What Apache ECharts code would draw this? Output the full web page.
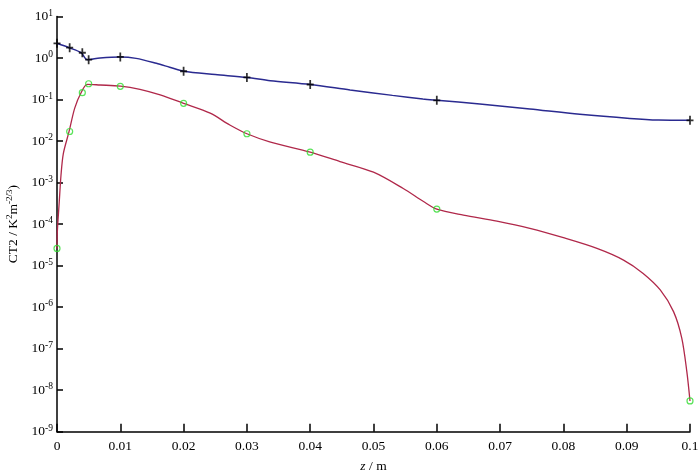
<!DOCTYPE html>
<html>
<head>
<meta charset="utf-8">
<script src="https://cdn.jsdelivr.net/npm/echarts@6/dist/echarts.min.js"></script>
<style>
  html, body { margin: 0; padding: 0; background: #fff; }
  #chart { width: 700px; height: 474px; }
</style>
</head>
<body>
<div id="chart"></div>
<script>
// z (m) positions of the measured points
var markerZ = [0, 0.002, 0.004, 0.005, 0.01, 0.02, 0.03, 0.04, 0.06, 0.1];
var blueMarkers = [2.26, 1.77, 1.34, 0.91, 1.06, 0.48, 0.34, 0.23, 0.096, 0.0315];
var redMarkers = [2.6e-5, 0.017, 0.146, 0.24, 0.208, 0.081, 0.015, 0.0054, 2.3e-4, 5.5e-9];

// curve
var blueLineZ = [0, 0.0019, 0.0038, 0.0048, 0.0068, 0.01, 0.0125, 0.0157, 0.0178, 0.02, 0.025, 0.03,
  0.0337, 0.04, 0.0463, 0.053, 0.0578, 0.06, 0.0668, 0.0747, 0.0826, 0.0905, 0.095, 0.1];
var blueLine = [2.26, 1.77, 1.34, 0.91, 1.0, 1.06, 0.98, 0.745, 0.6, 0.48, 0.4, 0.34,
  0.284, 0.23, 0.17, 0.126, 0.103, 0.096, 0.078, 0.059, 0.044, 0.035, 0.032, 0.0315];

var redLineZ = [0, 0.00005, 0.00036, 0.00063, 0.001, 0.0019, 0.0028, 0.0038, 0.0048, 0.0068, 0.01,
  0.0131, 0.0163, 0.02, 0.0242, 0.0273, 0.03, 0.0336, 0.04, 0.0447, 0.05, 0.0547, 0.0579, 0.06,
  0.0642, 0.0695, 0.0747, 0.08, 0.0853, 0.0895, 0.0926, 0.0953, 0.0974, 0.0987, 0.0995, 0.1];
var redLine = [2.6e-5, 6.5e-5, 3.5e-4, 1.5e-3, 5.0e-3, 0.0168, 0.062, 0.146, 0.232, 0.224, 0.211,
  0.176, 0.129, 0.081, 0.047, 0.0243, 0.015, 0.0096, 0.0054, 0.0032, 0.00178, 0.00072, 0.00035, 0.00023,
  1.65e-4, 1.18e-4, 7.9e-5, 4.7e-5, 2.6e-5, 1.36e-5, 6.5e-6, 2.6e-6, 7.8e-7, 1.8e-7, 2.8e-8, 5.5e-9];

function pairs(xs, ys) {
  return xs.map(function (x, i) { return [x, ys[i]]; });
}

var font = "'Liberation Serif', 'Times New Roman', serif";
var plusPath = 'path://M3,0h2v4h3v2h-3v4h-2v-4h-3v-2h3z';

var chart = echarts.init(document.getElementById('chart'));
chart.setOption({
  animation: false,
  grid: { left: 57, right: 10, top: 16.5, bottom: 42.3, containLabel: false, outerBoundsMode: 'none' },
  xAxis: {
    type: 'value',
    min: 0,
    max: 0.1,
    interval: 0.01,
    name: '{i|z}{n| / m}',
    nameLocation: 'middle',
    nameGap: 28,
    nameTextStyle: {
      rich: {
        i: { fontFamily: font, fontSize: 13.5, fontStyle: 'italic', color: '#000' },
        n: { fontFamily: font, fontSize: 13.5, color: '#000' }
      }
    },
    axisLine: { lineStyle: { color: '#000', width: 1.5 } },
    axisTick: { inside: true, length: 8, lineStyle: { color: '#000', width: 1.5 } },
    axisLabel: {
      margin: 8,
      color: '#000',
      fontFamily: font,
      fontSize: 13.5,
      formatter: function (v) { return String(+v.toFixed(2)); }
    },
    splitLine: { show: false }
  },
  yAxis: {
    type: 'log',
    logBase: 10,
    min: 1e-9,
    max: 10,
    interval: 1,
    name: '{b|CT2 / K}{s|2}{b|m}{s|-2/3}{b|)}',
    nameLocation: 'middle',
    nameGap: 36,
    nameTextStyle: {
      rich: {
        b: { fontFamily: font, fontSize: 13.5, color: '#000' },
        s: { fontFamily: font, fontSize: 9, color: '#000', padding: [0, 0, 7, 0] }
      }
    },
    axisLine: { lineStyle: { color: '#000', width: 1.5 } },
    axisTick: { inside: true, length: 6, lineStyle: { color: '#000', width: 1.5 } },
    minorTick: { show: false },
    axisLabel: {
      margin: 4,
      color: '#000',
      formatter: function (v) {
        var e = Math.round(Math.log10(v));
        return '{b|10}{e|' + e + '}';
      },
      rich: {
        b: { fontFamily: font, fontSize: 13.5, color: '#000' },
        e: { fontFamily: font, fontSize: 9.5, color: '#000', padding: [0, 0, 7, 0] }
      }
    },
    splitLine: { show: false }
  },
  series: [
    {
      type: 'line',
      data: pairs(blueLineZ, blueLine),
      smooth: 0.3,
      showSymbol: false,
      lineStyle: { color: '#2a2a90', width: 1.5 },
      z: 2
    },
    {
      type: 'line',
      data: pairs(redLineZ, redLine),
      smooth: 0.3,
      showSymbol: false,
      lineStyle: { color: '#b0284a', width: 1.3 },
      z: 2
    },
    {
      type: 'scatter',
      data: pairs(markerZ, blueMarkers),
      symbol: plusPath,
      symbolSize: [7, 9],
      itemStyle: { color: '#000' },
      z: 3
    },
    {
      type: 'scatter',
      data: pairs(markerZ, redMarkers),
      symbol: 'circle',
      symbolSize: 6,
      itemStyle: { color: 'rgba(0,0,0,0)', borderColor: '#2fdc2f', borderWidth: 1.2 },
      z: 3
    }
  ]
});
</script>
</body>
</html>
